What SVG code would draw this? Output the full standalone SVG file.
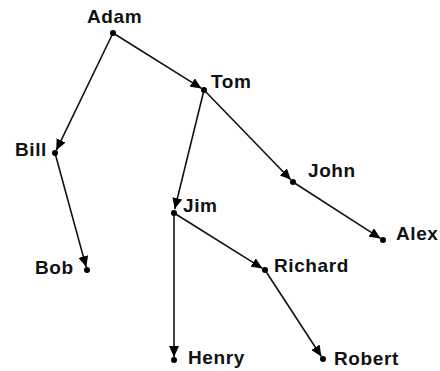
<svg xmlns="http://www.w3.org/2000/svg" width="440" height="371" viewBox="0 0 440 371">
<style>
.lbl{font-family:"Liberation Sans",Arial,sans-serif;font-weight:bold;font-size:19px;letter-spacing:0.6px;fill:#111}
.edge{stroke:#111;stroke-width:1.6;fill:none;marker-end:url(#arr)}
.dot{fill:#000}
</style>
<defs>
<marker id="arr" markerUnits="userSpaceOnUse" markerWidth="12" markerHeight="10" refX="11" refY="5" orient="auto">
<path d="M0,0 L11,5 L0,10 z" fill="#000"/>
</marker>
</defs>
<rect width="440" height="371" fill="#fff"/>
<g id="connectors">
<line class="edge" x1="113" y1="33" x2="201.5" y2="88.4"/>
<line class="edge" x1="113" y1="33" x2="56.3" y2="150.3"/>
<line class="edge" x1="204" y1="90" x2="174.7" y2="209.1"/>
<line class="edge" x1="204" y1="90" x2="290.9" y2="179.8"/>
<line class="edge" x1="55" y1="153" x2="86.2" y2="267.1"/>
<line class="edge" x1="174" y1="213" x2="174" y2="357"/>
<line class="edge" x1="174" y1="213" x2="262.5" y2="268.4"/>
<line class="edge" x1="293" y1="182" x2="380.5" y2="238.4"/>
<line class="edge" x1="265" y1="270" x2="321.4" y2="356.5"/>
</g>
<g id="Adam"><circle class="dot" cx="113" cy="33" r="3"/><text class="lbl" x="87" y="23">Adam</text></g>
<g id="Tom"><circle class="dot" cx="204" cy="90" r="3"/><text class="lbl" x="211" y="88">Tom</text></g>
<g id="Bill"><circle class="dot" cx="55" cy="153" r="3"/><text class="lbl" x="15" y="156">Bill</text></g>
<g id="John"><circle class="dot" cx="293" cy="182" r="3"/><text class="lbl" x="308" y="177">John</text></g>
<g id="Alex"><circle class="dot" cx="383" cy="240" r="3"/><text class="lbl" x="396" y="240">Alex</text></g>
<g id="Bob"><circle class="dot" cx="87" cy="270" r="3"/><text class="lbl" x="35" y="274">Bob</text></g>
<g id="Jim"><circle class="dot" cx="174" cy="213" r="3"/><text class="lbl" x="183" y="212">Jim</text></g>
<g id="Richard"><circle class="dot" cx="265" cy="270" r="3"/><text class="lbl" x="274" y="272">Richard</text></g>
<g id="Henry"><circle class="dot" cx="174" cy="360" r="3"/><text class="lbl" x="188" y="364">Henry</text></g>
<g id="Robert"><circle class="dot" cx="323" cy="359" r="3"/><text class="lbl" x="334" y="365">Robert</text></g>
</svg>
